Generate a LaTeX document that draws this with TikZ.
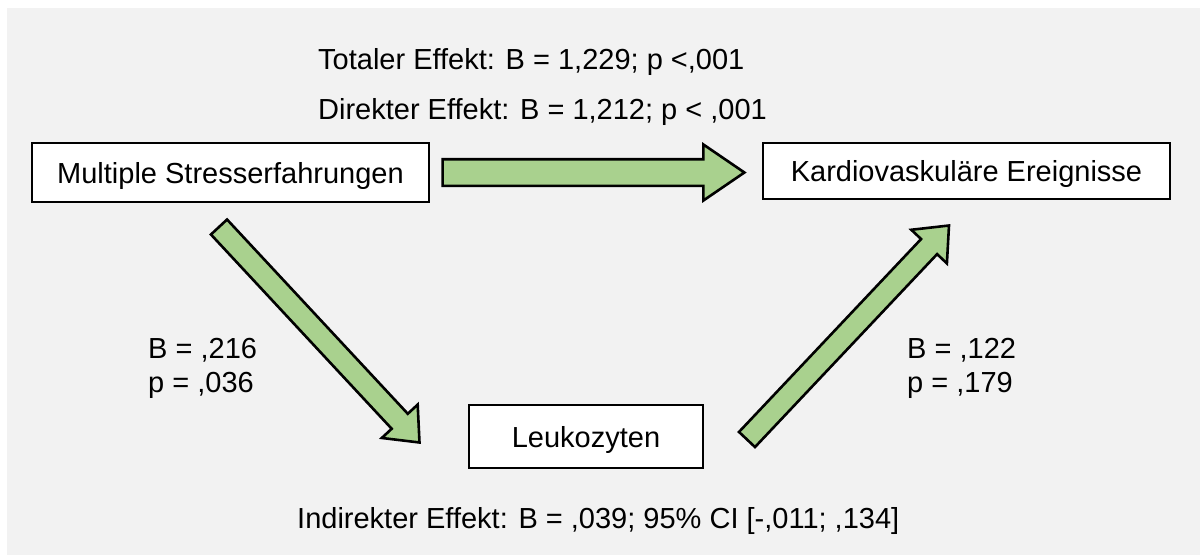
\documentclass[tikz,border=0pt]{standalone}
\usepackage{fontspec}
\setmainfont{Liberation Sans}
\usetikzlibrary{calc}
\definecolor{canvasgray}{HTML}{F2F2F2}
\definecolor{arrowgreen}{HTML}{A9D18E}

% Block arrow from tail #1 to tip #2: shaft half width #3, head half width #4, head length #5
\newcommand{\blockarrowpath}[5]{%
  \coordinate (hb) at ($(#2)!#5!(#1)$);
  \draw[blockarrow] ($(#1)!#3!90:(#2)$) -- ($(hb)!#3!90:(#2)$) -- ($(hb)!#4!90:(#2)$)
    -- (#2) -- ($(hb)!#4!-90:(#2)$) -- ($(hb)!#3!-90:(#2)$) -- ($(#1)!#3!-90:(#2)$) -- cycle;}

\begin{document}
\begin{tikzpicture}[x=1pt,y=-1pt,
  font=\fontsize{29}{34}\selectfont,
  box/.style={draw=black, line width=1.2pt, fill=white, text height=21pt, text depth=0pt, inner sep=0pt},
  blockarrow/.style={draw=black, line width=2.6pt, fill=arrowgreen, line join=miter},
  lbl/.style={inner sep=0pt, anchor=base west}]

% canvas
\fill[white] (0,0) rectangle (1200,555);
\fill[canvasgray] (7,8) rectangle (1200,555);
\useasboundingbox (0,0) rectangle (1200,555);

% variables
\node[box, minimum width=397pt, minimum height=59pt] (stress) at (230.5,172.5) {Multiple Stresserfahrungen};
\node[box, minimum width=407pt, minimum height=56pt] (kardio) at (966.5,171) {Kardiovaskuläre Ereignisse};
\node[box, minimum width=234pt, minimum height=63pt] (leuko) at (586,436.5) {Leukozyten};

% arrow ends
\coordinate (dirT) at ($(stress.east)+(13,0)$);
\coordinate (dirH) at ($(kardio.west)+(-18,1.5)$);
\coordinate (aT) at (219,227);
\coordinate (aH) at (419.5,442.5);
\coordinate (bT) at (747,439.5);
\coordinate (bH) at (949,225.5);

% paths
\blockarrowpath{dirT}{dirH}{13.3pt}{28pt}{41pt}
\blockarrowpath{aT}{aH}{11pt}{24.5pt}{29pt}
\blockarrowpath{bT}{bH}{11pt}{24.5pt}{29pt}

% coefficients
\node[lbl] (total) at (318,69) {Totaler Effekt: B = 1,229; p <,001};
\node[lbl] (direct) at (318,119) {Direkter Effekt: B = 1,212; p < ,001};
\node[lbl] (bA) at (148,358) {B = ,216};
\node[lbl] (pA) at (148,392) {p = ,036};
\node[lbl] (bB) at (907,358) {B = ,122};
\node[lbl] (pB) at (907,392) {p = ,179};
\node[lbl] (indirect) at (297,528) {Indirekter Effekt: B = ,039; 95\% CI [-,011; ,134]};
\end{tikzpicture}
\end{document}
